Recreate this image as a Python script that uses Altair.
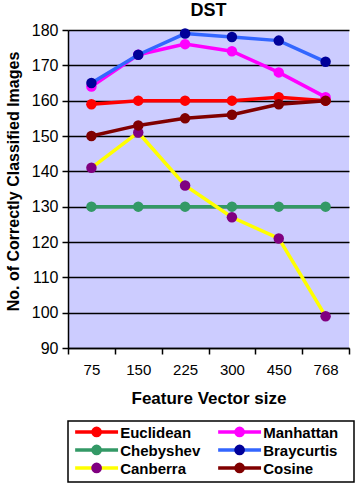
import altair as alt
import pandas as pd

sizes = ["75", "150", "225", "300", "450", "768"]

euclidean = [159, 160, 160, 160, 161, 160]
manhattan = [164, 173, 176, 174, 168, 161]
chebyshev = [130, 130, 130, 130, 130, 130]
braycurtis = [165, 173, 179, 178, 177, 171]
canberra = [141, 151, 136, 127, 121, 99]
cosine = [150, 153, 155, 156, 159, 160]

series = ["Euclidean", "Manhattan", "Chebyshev", "Braycurtis", "Canberra", "Cosine"]
line_colors = ["#FF0000", "#FF00FF", "#339966", "#3366FF", "#FFFF00", "#800000"]
point_colors = ["#FF0000", "#FF00FF", "#339966", "#000099", "#800080", "#800000"]
values = [euclidean, manhattan, chebyshev, braycurtis, canberra, cosine]

FONT = "Liberation Sans"

rows = []
for name, lc, pc, vals in zip(series, line_colors, point_colors, values):
    for s, v in zip(sizes, vals):
        rows.append({"size": s, "value": v, "series": name, "lc": lc, "pc": pc})
df = pd.DataFrame(rows)

x_enc = alt.X("size:N", sort=sizes, title="Feature Vector size",
              scale=alt.Scale(paddingInner=0, paddingOuter=0),
              axis=alt.Axis(labelAngle=0, labelFontSize=15, labelFont=FONT,
                            labelColor="black", labelPadding=8,
                            titleFont=FONT, titleFontSize=17, titleFontWeight="bold",
                            titlePadding=13, titleColor="black",
                            tickBand="extent", tickSize=6, tickWidth=1.5,
                            tickColor="black", domainColor="black", domainWidth=1.5,
                            grid=False))
y_enc = alt.Y("value:Q", title="No. of Correctly Classified Images",
              scale=alt.Scale(domain=[90, 180], nice=False, zero=False),
              axis=alt.Axis(values=list(range(90, 181, 10)), labelFontSize=16,
                            labelFont=FONT, labelColor="black", labelPadding=4,
                            titleFont=FONT, titleFontSize=16, titleFontWeight="bold",
                            titlePadding=10, titleColor="black", titleY=151,
                            tickSize=6, tickWidth=1.5, tickColor="black",
                            domainColor="black", domainWidth=1.5,
                            grid=True, gridColor="black", gridWidth=1.5))

layers = []
for name in series:
    sub = df[df["series"] == name]
    base = alt.Chart(sub).encode(x=x_enc, y=y_enc)
    layers.append(base.mark_line(color=sub["lc"].iloc[0], strokeWidth=3.5))
    layers.append(base.mark_point(filled=True, color=sub["pc"].iloc[0], size=110, opacity=1))

plot = alt.layer(*layers).properties(
    width=281, height=318,
    view=alt.ViewBackground(fill="#CCCCFF", strokeWidth=0),
    title=alt.TitleParams("DST", font=FONT, fontSize=18, fontWeight="bold",
                          color="black", offset=2),
)

# legend panel: two columns, three rows
leg_rows = []
for i, (name, lc, pc) in enumerate(zip(series, line_colors, point_colors)):
    col = i % 2
    row = i // 2
    leg_rows.append({"name": name, "lc": lc, "pc": pc,
                     "x0": col + 0.05, "x1": col + 0.35, "xm": col + 0.2,
                     "xt": col + 0.365, "row": row})
leg = pd.DataFrame(leg_rows)

lx = alt.Scale(domain=[0, 2])
ly = alt.Scale(domain=[-0.61, 2.78], reverse=True)
lbase = alt.Chart(leg)
leg_line = lbase.mark_rule(strokeWidth=3.5).encode(
    x=alt.X("x0:Q", scale=lx, axis=None), x2="x1:Q",
    y=alt.Y("row:Q", scale=ly, axis=None),
    color=alt.Color("lc:N", scale=None))
leg_pt = lbase.mark_point(filled=True, size=115, opacity=1).encode(
    x=alt.X("xm:Q", scale=lx, axis=None),
    y=alt.Y("row:Q", scale=ly, axis=None),
    color=alt.Color("pc:N", scale=None))
leg_txt = lbase.mark_text(align="left", baseline="middle", font=FONT,
                          fontSize=15, fontWeight="bold", color="black", dy=1).encode(
    x=alt.X("xt:Q", scale=lx, axis=None),
    y=alt.Y("row:Q", scale=ly, axis=None),
    text="name:N")
legend = alt.layer(leg_line, leg_pt, leg_txt).properties(
    width=286, height=61,
    view=alt.ViewBackground(fill="white", stroke="black", strokeWidth=1.5),
)

chart = alt.vconcat(plot, legend, spacing=14).resolve_scale(
    x="independent", y="independent"
).configure(
    padding={"left": 5, "top": 2, "right": 0, "bottom": 0},
    background="white",
)

chart.save("out.html", embed_options={"renderer": "svg", "actions": False})
